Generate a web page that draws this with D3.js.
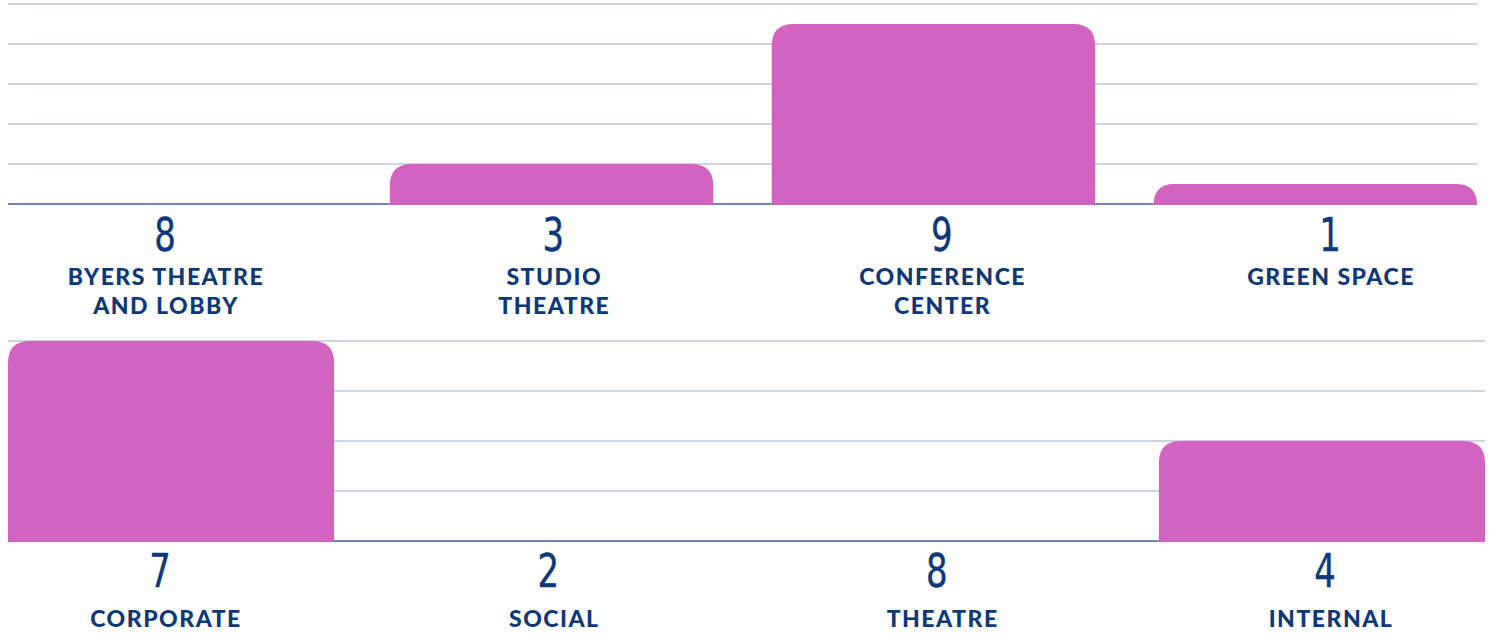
<!DOCTYPE html>
<html>
<head>
<meta charset="utf-8">
<script src="https://cdn.jsdelivr.net/npm/d3@7"></script>
<style>
  html, body { margin: 0; padding: 0; background: #ffffff; }
  svg { display: block; }
  .num { font-family: "Liberation Sans Narrow", "DejaVu Sans Condensed", sans-serif; fill: #0d3877; stroke: #0d3877; stroke-width: 0.4px; }
  .lbl { font-family: Lato, "Open Sans", sans-serif; font-weight: 900; fill: #0d3877; letter-spacing: 1.5px; }
</style>
</head>
<body>
<svg id="chart" width="1494" height="633"></svg>
<script>
// ---- data ----
const topCategories = ["BYERS THEATRE|AND LOBBY", "STUDIO|THEATRE", "CONFERENCE|CENTER", "GREEN SPACE"];
const topBarValues = [0, 1, 4.5, 0.5];
const topNumbers = ["8", "3", "9", "1"];
const topTicks = [0, 1, 2, 3, 4, 5];

const bottomCategories = ["CORPORATE", "SOCIAL", "THEATRE", "INTERNAL"];
const bottomBarValues = [4, 0, 0, 2];
const bottomNumbers = ["7", "2", "8", "4"];
const bottomTicks = [0, 1, 2, 3, 4];

const svg = d3.select("#chart");

function roundedTopBar(x, y, w, h, r) {
  r = Math.min(r, h, w / 2);
  return `M${x},${y + h}V${y + r}Q${x},${y} ${x + r},${y}H${x + w - r}Q${x + w},${y} ${x + w},${y + r}V${y + h}Z`;
}

function drawPanel(cfg) {
  const g = svg.append("g");
  const x = d3.scaleBand().domain(cfg.categories).range(cfg.xRange).paddingInner(cfg.padInner).paddingOuter(0);
  const y = d3.scaleLinear().domain([0, d3.max(cfg.ticks)]).range([cfg.base, cfg.top]);
  const lx = d3.scalePoint().domain(cfg.categories).range(cfg.labelRange);

  // gridlines
  g.append("g").selectAll("line").data(cfg.ticks.filter(t => t > 0)).join("line")
    .attr("x1", cfg.xRange[0]).attr("x2", cfg.xRange[1])
    .attr("y1", d => y(d)).attr("y2", d => y(d))
    .attr("stroke", "#cdd4e2").attr("stroke-width", 2);
  // baseline
  g.append("line")
    .attr("x1", cfg.xRange[0]).attr("x2", cfg.xRange[1])
    .attr("y1", y(0)).attr("y2", y(0))
    .attr("stroke", "#7088b2").attr("stroke-width", 2);

  // bars (only non-zero values)
  const barData = cfg.categories.map((c, i) => ({ c, v: cfg.values[i] })).filter(d => d.v > 0);
  g.append("g").selectAll("path").data(barData).join("path")
    .attr("d", d => roundedTopBar(x(d.c), y(d.v), x.bandwidth(), y(0) - y(d.v) + 1, 22))
    .attr("fill", "#d263c0");

  // numbers
  g.append("g").selectAll("text").data(cfg.categories.map((c, i) => ({ c, n: cfg.numbers[i] }))).join("text")
    .attr("class", "num")
    .attr("text-anchor", "middle")
    .attr("transform", d => `translate(${lx(d.c) + cfg.numShift},${cfg.numBaseline}) scale(0.82,1)`)
    .attr("font-size", 46)
    .text(d => d.n);

  // category labels
  const lab = g.append("g").selectAll("text").data(cfg.categories).join("text")
    .attr("class", "lbl")
    .attr("text-anchor", "middle")
    .attr("font-size", 23)
    .attr("x", d => lx(d))
    .attr("y", cfg.lblBaseline);
  lab.selectAll("tspan").data(d => d.split("|")).join("tspan")
    .attr("x", function () { return d3.select(this.parentNode).attr("x"); })
    .attr("dy", (d, i) => i === 0 ? 0 : 29)
    .text(d => d);
}

drawPanel({
  categories: topCategories, values: topBarValues, numbers: topNumbers, ticks: topTicks,
  xRange: [8, 1477], padInner: 0.153, base: 204, top: 4,
  labelRange: [166, 1331], numShift: -1, numBaseline: 251, lblBaseline: 285
});
drawPanel({
  categories: bottomCategories, values: bottomBarValues, numbers: bottomNumbers, ticks: bottomTicks,
  xRange: [8, 1485], padInner: 0.15, base: 541, top: 341,
  labelRange: [166, 1331], numShift: -6, numBaseline: 587, lblBaseline: 627
});
</script>
</body>
</html>
